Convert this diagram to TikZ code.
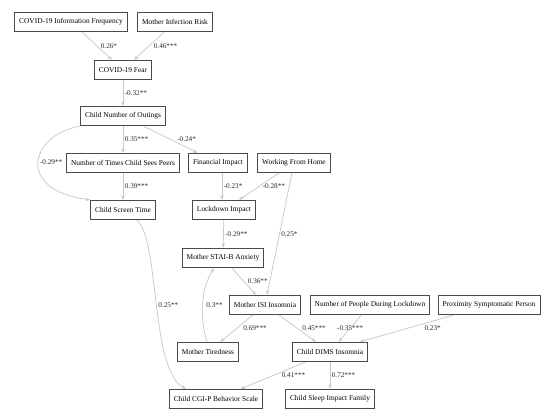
\documentclass[tikz,border=0pt]{standalone}
\usepackage{fontspec}
\setmainfont{Liberation Serif}
\usepackage{xcolor}
\usetikzlibrary{positioning,arrows.meta}
\definecolor{brd}{HTML}{4A4A4A}
\definecolor{edg}{HTML}{C6C6C6}
\definecolor{txt}{HTML}{2A2A2A}
\tikzset{
  var/.style={draw=brd, line width=0.8pt, fill=white, minimum height=19.5pt, inner xsep=4.5pt, inner ysep=2pt, text=black},
  lnk/.style={draw=edg, line width=0.7pt, -{Stealth[length=4.5pt, width=3.5pt]}},
  lbl/.style={font=\fontsize{7.2}{8}\selectfont, text=txt, inner sep=1.5pt}}

\begin{document}
\begin{tikzpicture}[x=1pt, y=-1pt, font=\fontsize{7.4}{9}\selectfont]
\useasboundingbox (0,0) rectangle (550,417);
% variables
\node[var] (info) at (71,22) {COVID-19 Information Frequency};
\node[var] (risk) at (175,22) {Mother Infection Risk};
\node[var] (fear) at (123,70) {COVID-19 Fear};
\node[var] (outg) at (123,116) {Child Number of Outings};
\node[var] (peer) at (123,163) {Number of Times Child Sees Peers};
\node[var] (fina) at (218,163) {Financial Impact};
\node[var] (wfh) at (294,163) {Working From Home};
\node[var] (scrn) at (123,210) {Child Screen Time};
\node[var] (lock) at (224,210) {Lockdown Impact};
\node[var] (stai) at (223,258) {Mother STAI-B Anxiety};
\node[var] (isi) at (265,305) {Mother ISI Insomnia};
\node[var] (nppl) at (370,305) {Number of People During Lockdown};
\node[var] (prox) at (489,305) {Proximity Symptomatic Person};
\node[var] (tird) at (208,352) {Mother Tiredness};
\node[var] (dims) at (330,352) {Child DIMS Insomnia};
\node[var] (cgip) at (216,399) {Child CGI-P Behavior Scale};
\node[var] (slpf) at (330,399) {Child Sleep Impact Family};
% paths
\draw[lnk] (info) -- (fear) node[lbl, midway, right=2pt] {0.26*};
\draw[lnk] (risk) -- (fear) node[lbl, midway, right=3pt] {0.46***};
\draw[lnk] (fear) -- (outg) node[lbl, midway, right] {-0.32**};
\draw[lnk] (outg) -- (peer) node[lbl, midway, right] {0.35***};
\draw[lnk] (outg) -- (fina) node[lbl, midway, right=5pt] {-0.24*};
\draw[lnk] (outg.south west) .. controls (30,135) and (15,190) .. (scrn.north west) node[lbl, pos=0.5, right] {-0.29**};
\draw[lnk] (peer) -- (scrn) node[lbl, midway, right] {0.39***};
\draw[lnk] ([xshift=4pt]fina.south) -- ([xshift=-2pt]lock.north) node[lbl, midway, right] {-0.23*};
\draw[lnk] (wfh) -- (lock) node[lbl, midway, right=2pt] {-0.28**};
\draw[lnk] (wfh) -- (isi) node[lbl, midway, right] {0.25*};
\draw[lnk] (lock) -- (stai) node[lbl, midway, right] {-0.29**};
\draw[lnk] (stai) -- (isi) node[lbl, midway, right=2pt] {0.36**};
\draw[lnk] ([xshift=14pt]scrn.south) .. controls (160,240) and (150,370) .. ([xshift=-30pt]cgip.north) node[lbl, pos=0.5, right=0pt] {0.25**};
\draw[lnk] ([xshift=-1pt]tird.north) .. controls (200,320) and (200,290) .. ([xshift=-9pt]stai.south) node[lbl, pos=0.5, right=2pt] {0.3**};
\draw[lnk] (isi) -- (tird) node[lbl, midway, right=5pt] {0.69***};
\draw[lnk] (isi) -- (dims) node[lbl, midway, right=3pt] {0.45***};
\draw[lnk] (nppl) -- (dims) node[lbl, midway] {-0.35***};
\draw[lnk] (prox) -- ([xshift=30pt]dims.north) node[lbl, midway, right=16pt] {0.23*};
\draw[lnk] (dims) -- (cgip) node[lbl, midway, right=7pt] {0.41***};
\draw[lnk] (dims) -- (slpf) node[lbl, midway, right] {0.72***};
\end{tikzpicture}
\end{document}
